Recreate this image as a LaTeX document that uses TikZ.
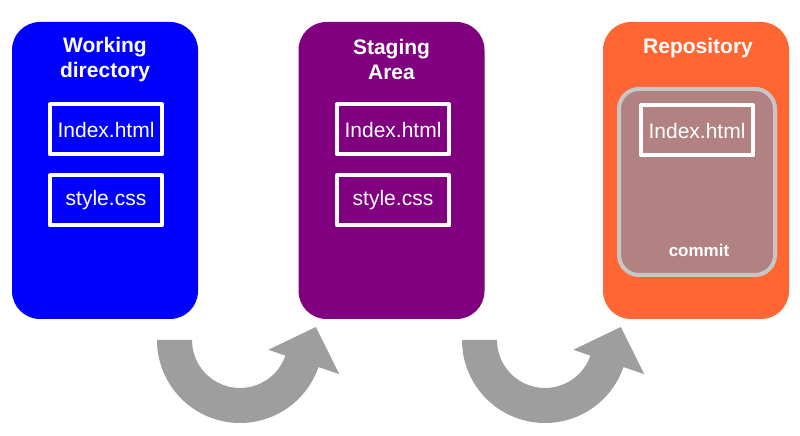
\documentclass[tikz,border=0pt]{standalone}
\usepackage{fontspec}
\setmainfont{Liberation Sans}
\usepackage{tikz}
\usetikzlibrary{calc}
\definecolor{qqqqff}{rgb}{0.,0.,1.}
\definecolor{ppqqpp}{rgb}{0.5,0.,0.5}
\definecolor{ffwwqq}{rgb}{1.,0.4,0.2}
\definecolor{rrmmmm}{rgb}{0.70,0.51,0.51}
\definecolor{cccccc}{rgb}{0.78,0.78,0.78}
\definecolor{aaaaaa}{rgb}{0.62,0.62,0.62}
\tikzset{
  area/.style={rounded corners=28pt,minimum width=186pt,minimum height=297pt,inner sep=0pt},
  title/.style={text=white,align=center,font=\bfseries\fontsize{21}{25}\selectfont},
  filebox/.style={draw=white,line width=4pt,minimum width=112pt,minimum height=50pt,inner sep=0pt,text=white,font=\fontsize{21}{25}\selectfont}
}

\begin{document}
\begin{tikzpicture}[line cap=round,line join=round,x=1pt,y=1pt]
\useasboundingbox (0,0) rectangle (800,436);
% the three areas
\node[area,fill=qqqqff] (work) at (105,265.5) {};
\node[area,fill=ppqqpp] (stage) at (391.5,265.5) {};
\node[area,fill=ffwwqq] (repo) at (696,265.5) {};
\node[title] (worktitle) at (105,376.5) {Working\\directory};
\node[title] (stagetitle) at (391.5,376.5) {Staging\\Area};
\node[title] (repotitle) at (698,388) {Repository};
% files
\node[filebox] (workindex) at (106,306.5) {Index.html};
\node[filebox] (workstyle) at (106,235.5) {style.css};
\node[filebox] (stageindex) at (393,306.5) {Index.html};
\node[filebox] (stagestyle) at (393,235.5) {style.css};
% commit
\node[draw=cccccc,fill=rrmmmm,line width=4pt,rounded corners=20pt,minimum width=156pt,minimum height=186pt,inner sep=0pt] (commitbox) at (697,254) {};
\node[filebox] (repoindex) at (697,305.5) {Index.html};
\node[text=white,font=\bfseries\fontsize{17}{20}\selectfont] (committext) at (699,186) {commit};
% curved arrows
\foreach \cx in {240,545}
{
\coordinate (c) at (\cx,96);
\fill[aaaaaa] ($(c)+(180:83)$) arc[start angle=180,end angle=341,radius=83] -- ($(c)+(341:105)$) -- ($(c)+(341:67.5)+(71:37)$) -- ($(c)+(341:30)$) -- ($(c)+(341:48)$) arc[start angle=341,end angle=180,radius=48] -- cycle;
}
\end{tikzpicture}
\end{document}
